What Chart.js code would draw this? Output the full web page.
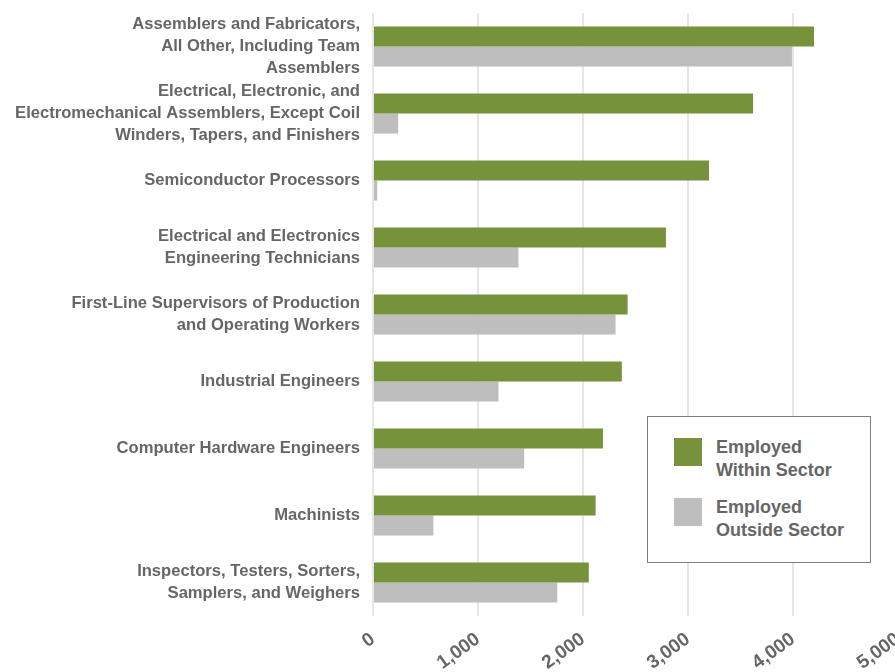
<!DOCTYPE html>
<html>
<head>
<meta charset="utf-8">
<script src="https://cdn.jsdelivr.net/npm/chart.js@4.4.0/dist/chart.umd.min.js"></script>
<style>
  body { margin: 0; overflow: hidden; background: #fff; }
  #wrap { position: relative; width: 898px; height: 672px; }
  #legend {
    position: absolute; left: 647px; top: 416px; width: 222px; height: 145px;
    border: 1.5px solid #808080; background: #fff;
    font-family: "Liberation Sans", Arial, sans-serif; font-weight: bold; font-size: 18px;
    color: #666; line-height: 23px;
  }
  .item { position: absolute; left: 26px; }
  .sw { position: absolute; left: 0; top: 5px; width: 28px; height: 28px; }
  .txt { position: absolute; left: 42px; top: 3px; white-space: nowrap; }
</style>
</head>
<body>
<div id="wrap">
  <canvas id="myChart"></canvas>
  <div id="legend">
    <div class="item" style="top:16px"><div class="sw" style="background:#76933c"></div><div class="txt">Employed<br>Within Sector</div></div>
    <div class="item" style="top:76px"><div class="sw" style="background:#bebebe"></div><div class="txt">Employed<br>Outside Sector</div></div>
  </div>
</div>
<script>
var ocupacoes = [
  ["Assemblers and Fabricators,", "All Other, Including Team", "Assemblers"],
  ["Electrical, Electronic, and", "Electromechanical Assemblers, Except Coil", "Winders, Tapers, and Finishers"],
  "Semiconductor Processors",
  ["Electrical and Electronics", "Engineering Technicians"],
  ["First-Line Supervisors of Production", "and Operating Workers"],
  "Industrial Engineers",
  "Computer Hardware Engineers",
  "Machinists",
  ["Inspectors, Testers, Sorters,", "Samplers, and Weighers"]
];
var dentroSetor = [4200, 3620, 3200, 2790, 2425, 2370, 2190, 2120, 2055];
var foraSetor = [3990, 240, 40, 1385, 2310, 1195, 1440, 575, 1755];
var nomesSeries = ["Employed Within Sector", "Employed Outside Sector"];
var ticksX = [0, 1000, 2000, 3000, 4000, 5000];

var fonte = "'Liberation Sans', Arial, sans-serif";
var corTexto = "#666";

const ctx = document.getElementById('myChart').getContext('2d');
const myChart = new Chart(ctx, {
  type: 'bar',
  data: {
    labels: ocupacoes,
    datasets: [{
      label: nomesSeries[0],
      data: dentroSetor,
      backgroundColor: '#76933c',
      categoryPercentage: 0.6,
      barPercentage: 1
    }, {
      label: nomesSeries[1],
      data: foraSetor,
      backgroundColor: '#bebebe',
      categoryPercentage: 0.6,
      barPercentage: 1
    }]
  },
  options: {
    indexAxis: 'y',
    responsive: true,
    maintainAspectRatio: false,
    animation: false,
    layout: { padding: { top: 13, right: 0, left: 0, bottom: 0 } },
    plugins: {
      legend: { display: false },
      tooltip: { enabled: false }
    },
    scales: {
      x: {
        min: 0,
        max: 5000,
        afterBuildTicks: function (s) {
          s.ticks = ticksX.map(function (v) { return { value: v }; });
        },
        afterFit: function (s) {
          s.height = 56;
          s.paddingLeft = 0;
          s.paddingRight = 0;
        },
        grid: { color: '#e6e6e6', lineWidth: 2, drawTicks: true, tickLength: 0 },
        border: { display: false },
        ticks: {
          color: corTexto,
          font: { family: fonte, size: 19, weight: 'bold' },
          autoSkip: false,
          minRotation: 36,
          maxRotation: 36,
          padding: 12,
          callback: function (v) { return v.toLocaleString('en-US'); }
        }
      },
      y: {
        afterFit: function (s) {
          s.width = 373;
          s.paddingTop = 0;
          s.paddingBottom = 0;
        },
        grid: { display: false, drawTicks: false },
        border: { display: false },
        ticks: {
          color: corTexto,
          font: { family: fonte, size: 16.6, weight: 'bold', lineHeight: 1.33 },
          autoSkip: false,
          padding: 13
        }
      }
    }
  }
});
</script>
</body>
</html>
